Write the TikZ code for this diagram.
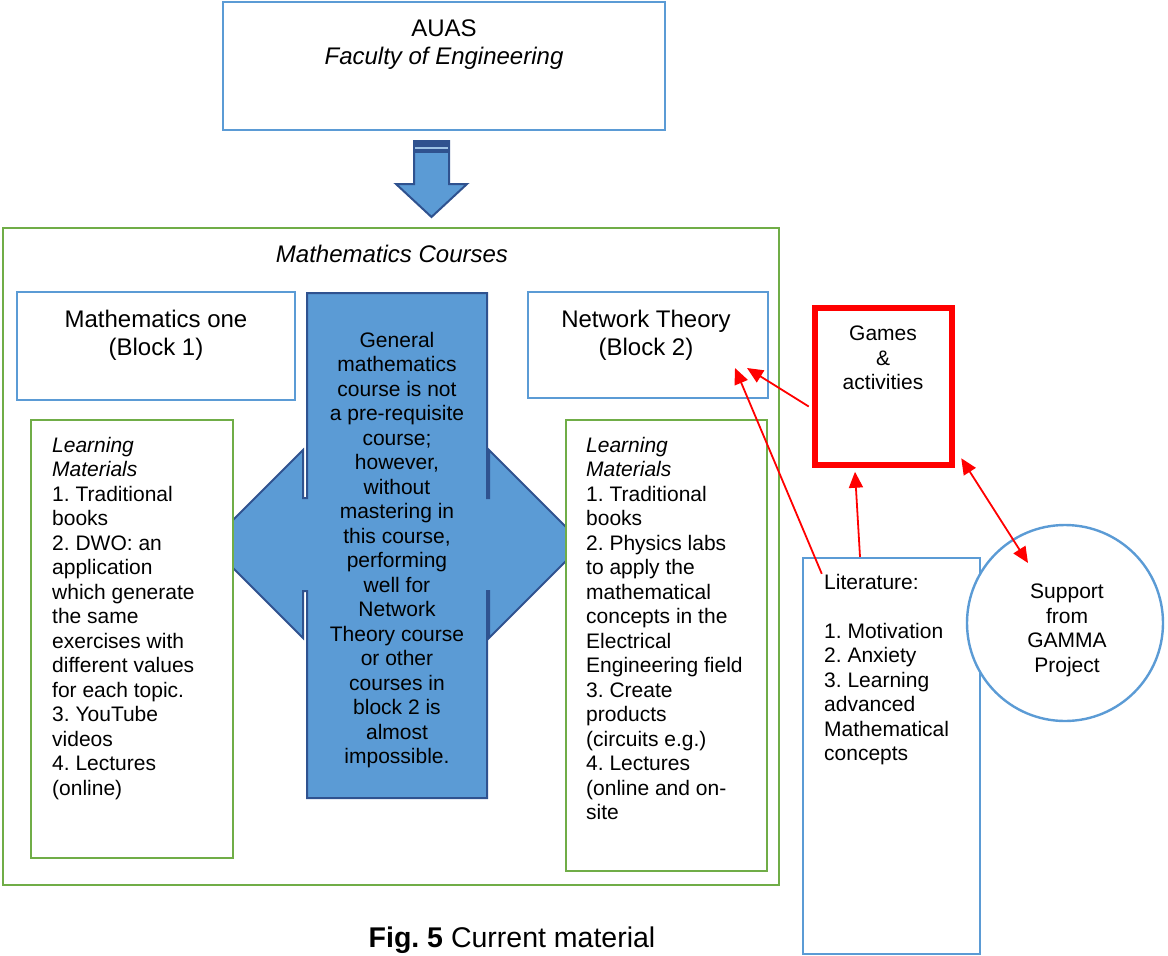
\documentclass[tikz,border=0pt]{standalone}
\usepackage{fontspec}
\setmainfont{Liberation Sans}
\usetikzlibrary{arrows.meta,calc}
\definecolor{boxblue}{HTML}{5B9BD5}
\definecolor{boxgreen}{HTML}{70AD47}
\definecolor{shapefill}{HTML}{5B9BD5}
\definecolor{shapeedge}{HTML}{2F528F}
\definecolor{arrowred}{HTML}{FF0000}
\frenchspacing
\begin{document}
\begin{tikzpicture}[x=1pt,y=-1pt,
  bluebox/.style={draw=boxblue,line width=2.4pt,inner sep=0pt},
  greenbox/.style={draw=boxgreen,line width=2.4pt,inner sep=0pt},
  body/.style={font=\fontsize{21}{24.5}\selectfont,inner sep=0pt},
  titletext/.style={font=\fontsize{24}{28}\selectfont,inner sep=0pt,anchor=north,align=center},
  redarrow/.style={draw=arrowred,line width=1.8pt,-{Triangle[length=16pt,width=14pt]}},
]
\useasboundingbox (0,0) rectangle (1168,956);

% faculty box and the arrow below it
\node[bluebox,minimum width=442pt,minimum height=128pt] (auas) at (444,66) {};
\node[titletext] (auastext) at (444,20) {AUAS\\\textit{Faculty of Engineering}};
\draw[fill=shapefill,draw=shapeedge,line width=2pt]
  (414,141) -- (449,141) -- (449,184) -- (467,184) -- (431.5,217) -- (396,184) -- (414,184) -- cycle;
\fill[shapeedge] (414,141) rectangle (449,153);
\draw[boxblue!60!white,line width=1.2pt] (415,148) -- (448,148);

% course frame
\node[greenbox,minimum width=776pt,minimum height=657pt] (courses) at (391,556.5) {};
\node[titletext] (coursestext) at (392,245) {\textit{Mathematics Courses}};

\node[bluebox,minimum width=278pt,minimum height=108pt] (mathone) at (156,346) {};
\node[titletext] (mathonetext) at (156,310) {Mathematics one\\(Block 1)};
\node[bluebox,minimum width=240pt,minimum height=106pt] (nt) at (648,345) {};
\node[titletext] (nttext) at (646,310) {Network Theory\\(Block 2)};

% central callout with arrows to both sides
\draw[fill=shapefill,draw=shapeedge,line width=2pt]
  (307,293) -- (487,293) -- (487,498) -- (489,498) -- (489,450) -- (583,544)
  -- (489,638) -- (489,591) -- (487,591) -- (487,798) -- (307,798) -- (307,591)
  -- (303,591) -- (303,638) -- (209,544) -- (303,450) -- (303,498) -- (307,498) -- cycle;
\node[body,anchor=north,align=center] (general) at (397,332)
  {General\\mathematics\\course is not\\a pre-requisite\\course;\\however,\\without\\mastering in\\this course,\\performing\\well for\\Network\\Theory course\\or other\\courses in\\block 2 is\\almost\\impossible.};

% learning materials
\node[greenbox,fill=white,minimum width=202pt,minimum height=438pt] (lmone) at (132,639) {};
\node[body,anchor=north west,align=left] (lmonetext) at (52,437)
  {\textit{Learning}\\\textit{Materials}\\1. Traditional\\books\\2. DWO: an\\application\\which generate\\the same\\exercises with\\different values\\for each topic.\\3. YouTube\\videos\\4. Lectures\\(online)};
\node[greenbox,fill=white,minimum width=201pt,minimum height=451pt] (lmtwo) at (666.5,645.5) {};
\node[body,anchor=north west,align=left] (lmtwotext) at (586,437)
  {\textit{Learning}\\\textit{Materials}\\1. Traditional\\books\\2. Physics labs\\to apply the\\mathematical\\concepts in the\\Electrical\\Engineering field\\3. Create\\products\\(circuits e.g.)\\4. Lectures\\(online and on-\\site};

% games, literature and support
\node[draw=arrowred,line width=6.5pt,inner sep=0pt,minimum width=137pt,minimum height=157pt] (games) at (883.5,386.5) {};
\node[body,anchor=north,align=center] (gamestext) at (883,326) {Games\\\&\\activities};
\node[bluebox,minimum width=177pt,minimum height=396pt] (lit) at (891.5,756) {};
\node[body,anchor=north west,align=left] (littext) at (824,574)
  {Literature:\\[24.5pt]1. Motivation\\2. Anxiety\\3. Learning\\advanced\\Mathematical\\concepts};
\node[draw=boxblue,line width=2.4pt,fill=white,circle,inner sep=0pt,minimum size=196pt] (gamma) at (1065,623) {};
\node[body,anchor=north,align=center] (gammatext) at (1067,584) {Support\\from\\GAMMA\\Project};

% connectors
\coordinate (tipA) at (747,368);
\coordinate (tipB) at (735,368);
\draw[redarrow] ($(games.west)+(-3,20)$) -- (tipA);
\draw[redarrow] ($(lit.north west)+(20,17)$) -- (tipB);
\draw[redarrow] ($(lit.north)+(-31.5,0)$) -- ($(games.south)+(-28.5,3.5)$);
\draw[redarrow,{Triangle[length=16pt,width=14pt]}-{Triangle[length=16pt,width=14pt]}]
  ($(games.south east)+(6,-10)$) -- ($(gamma.center)+(-37,-60)$);

% caption
\node[font=\fontsize{28.5}{32}\selectfont,inner sep=0pt,anchor=north] (caption) at (512,927)
  {\textbf{Fig. 5} Current material};
\end{tikzpicture}
\end{document}
